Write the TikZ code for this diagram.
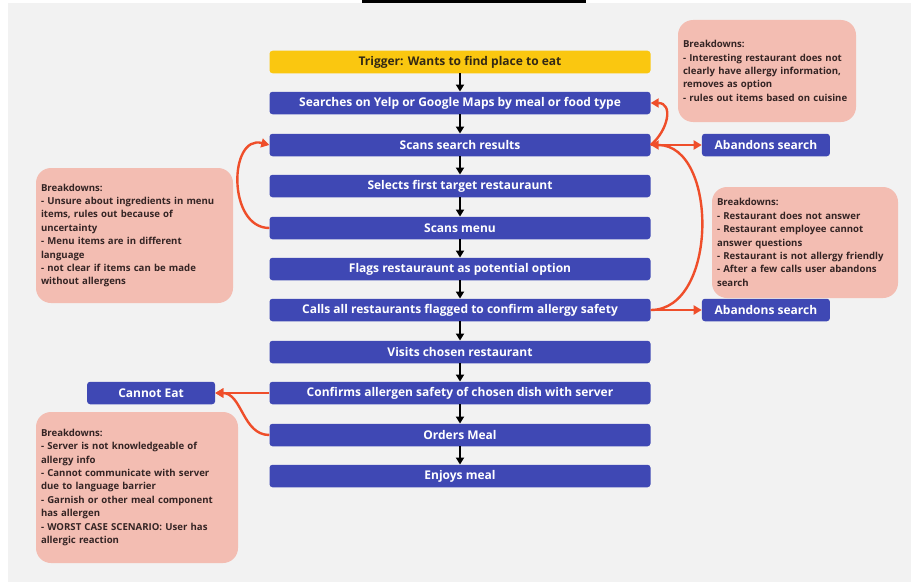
\documentclass[tikz,border=0pt]{standalone}
\usepackage{fontspec}
\setmainfont{Open Sans}
\usetikzlibrary{positioning,arrows.meta}

\definecolor{bggray}{RGB}{242,242,242}
\definecolor{flowblue}{RGB}{63,72,180}
\definecolor{trigyellow}{RGB}{250,199,16}
\definecolor{trigtext}{RGB}{50,40,20}
\definecolor{notepink}{RGB}{243,189,178}
\definecolor{notetext}{RGB}{52,36,36}
\definecolor{failred}{RGB}{239,78,42}

\tikzset{
  stepbox/.style={fill=flowblue, rounded corners=3pt, minimum width=381pt, minimum height=22.5pt, inner sep=0pt, text=white, font=\bfseries\fontsize{12}{14}\selectfont},
  triggerbox/.style={stepbox, fill=trigyellow, text=trigtext},
  endbox/.style={stepbox, minimum width=128pt},
  notebox/.style={fill=notepink, rounded corners=15pt, inner xsep=5pt, inner ysep=0pt, align=left, text=notetext, font=\bfseries\fontsize{9.6}{13.4}\selectfont},
  flowarrow/.style={line width=2pt, -{Triangle[length=7pt,width=8pt]}},
  failarrow/.style={line width=2.4pt, draw=failred, -{Triangle[length=8pt,width=9pt]}}
}

\begin{document}
\begin{tikzpicture}[x=1pt, y=1pt]
\useasboundingbox (0,0) rectangle (915,-586);
\fill[bggray] (8,-3) rectangle (911,-582);
\fill[black] (362,0) rectangle (586,-3);

\def\x{460}

\node[triggerbox] (trigger) at (\x, -62) {Trigger: Wants to find place to eat};
\node[stepbox] (search) at (\x, -103) {Searches on Yelp or Google Maps by meal or food type};
\node[stepbox] (scans) at (\x, -145) {Scans search results};
\node[stepbox] (selects) at (\x, -186) {Selects first target restauraunt};
\node[stepbox] (menu) at (\x, -228) {Scans menu};
\node[stepbox] (flags) at (\x, -269) {Flags restauraunt as potential option};
\node[stepbox] (calls) at (\x, -310) {Calls all restaurants flagged to confirm allergy safety};
\node[stepbox] (visits) at (\x, -352) {Visits chosen restaurant};
\node[stepbox] (confirms) at (\x, -393) {Confirms allergen safety of chosen dish with server};
\node[stepbox] (orders) at (\x, -435) {Orders Meal};
\node[stepbox] (enjoys) at (\x, -476) {Enjoys meal};

\node[endbox, right=51pt of scans] (abandon1) {Abandons search};
\node[endbox, right=51pt of calls] (abandon2) {Abandons search};
\node[endbox, left=54pt of confirms] (cannot) {Cannot Eat};

% breakdown notes
\node[notebox, text width=168pt, minimum height=102pt] (notesearch) at (767, -71) {Breakdowns:\\
- Interesting restaurant does not\\
clearly have allergy information,\\
removes as option\\
- rules out items based on cuisine};
\node[notebox, text width=187pt, minimum height=135pt] (notemenu) at (134.5, -235.5) {Breakdowns:\\
- Unsure about ingredients in menu\\
items, rules out because of\\
uncertainty\\
- Menu items are in different\\
language\\
- not clear if items can be made\\
without allergens};
\node[notebox, text width=176pt, minimum height=111pt] (notecalls) at (805, -242.5) {Breakdowns:\\
- Restaurant does not answer\\
- Restaurant employee cannot\\
answer questions\\
- Restaurant is not allergy friendly\\
- After a few calls user abandons\\
search};
\node[notebox, text width=192pt, minimum height=151pt] (noteserver) at (137, -487.5) {Breakdowns:\\
- Server is not knowledgeable of\\
allergy info\\
- Cannot communicate with server\\
due to language barrier\\
- Garnish or other meal component\\
has allergen\\
- WORST CASE SCENARIO: User has\\
allergic reaction};

\draw[flowarrow] (trigger) -- (search);
\draw[flowarrow] (search) -- (scans);
\draw[flowarrow] (scans) -- (selects);
\draw[flowarrow] (selects) -- (menu);
\draw[flowarrow] (menu) -- (flags);
\draw[flowarrow] (flags) -- (calls);
\draw[flowarrow] (calls) -- (visits);
\draw[flowarrow] (visits) -- (confirms);
\draw[flowarrow] (confirms) -- (orders);
\draw[flowarrow] (orders) -- (enjoys);

\draw[failarrow] (scans.east) to[out=40, in=0, looseness=1.4] (search.east);
\draw[failarrow] (scans.east) -- (abandon1.west);
\draw[failarrow] (calls.east) to[out=0, in=0, looseness=1.05] (scans.east);
\draw[failarrow] (calls.east) -- (abandon2.west);
\draw[failarrow] (menu.west) to[out=180, in=165, looseness=1.3] (scans.west);
\draw[failarrow] (confirms.west) -- (cannot.east);
\draw[failarrow] (orders.west) to[out=180, in=0] (cannot.east);

\end{tikzpicture}
\end{document}
